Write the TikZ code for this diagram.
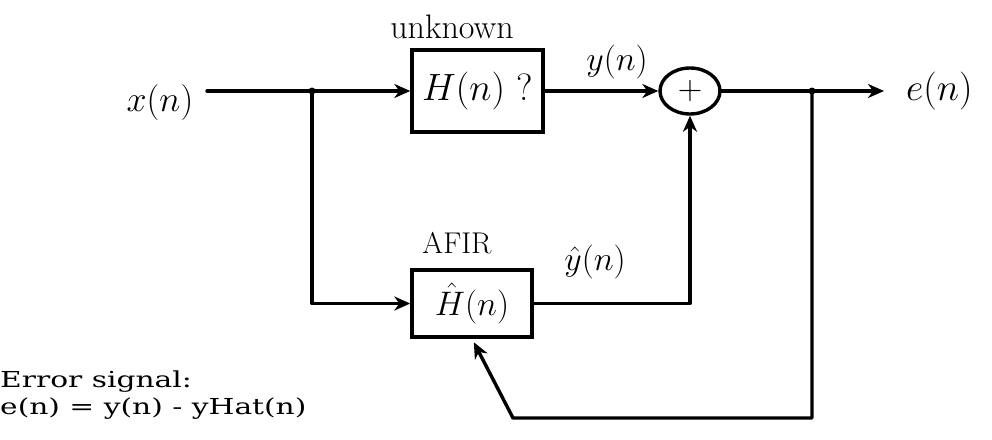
\RequirePackage{fix-cm}
\documentclass[tikz,border=0pt]{standalone}
\usepackage{fontspec}
\usetikzlibrary{arrows.meta,shapes.geometric}
\newfontfamily\errfont[FakeStretch=1.35]{DejaVu Serif}
\begin{document}
\begin{tikzpicture}[x=1pt,y=-1pt,
  wire/.style={line width=3.4pt,line join=round,line cap=round},
  arr/.style={wire,-{Stealth[length=16pt,width=14pt,inset=5pt]}},
  blockbox/.style={draw,line width=3.4pt,minimum width=#1,inner sep=0pt},
  lbl/.style={inner sep=0pt},
  dotnode/.style={circle,fill,inner sep=0pt,minimum size=7pt}]
\fill[white] (0,0) rectangle (992,439);
\useasboundingbox (0,0) rectangle (992,439);

% blocks
\node[blockbox=131pt,minimum height=82pt,font=\fontsize{38}{42}\selectfont] (H) at (477.5,91) {$H(n)$ ?};
\node[blockbox=120pt,minimum height=67pt,font=\fontsize{34}{38}\selectfont] (Hh) at (472,303.5) {$\hat{H}(n)$};
\node[draw,ellipse,line width=3.4pt,minimum width=60pt,minimum height=46pt,inner sep=0pt,font=\fontsize{34}{36}\selectfont] (sum) at (690,91) {$+$};

% labels
\node[lbl,font=\fontsize{36}{40}\selectfont] (xn) at (160,102) {$x(n)$};
\node[lbl,font=\fontsize{34}{36}\selectfont] (unk) at (452,27) {unknown};
\node[lbl,font=\fontsize{34}{38}\selectfont] (yn) at (617,62) {$y(n)$};
\node[lbl,font=\fontsize{30}{34}\selectfont] (afir) at (457,243) {AFIR};
\node[lbl,font=\fontsize{34}{38}\selectfont] (yh) at (595,262) {$\hat{y}(n)$};
\node[lbl,anchor=west,font=\fontsize{38}{42}\selectfont] (en) at (906,91) {$e(n)$};
\node[lbl,anchor=north west,align=left,font=\errfont\fontsize{22}{27}\selectfont] (err) at (0,371)
  {Error signal:\\e(n) = y(n) - yHat(n)};

% junctions
\coordinate (xs) at (207,91);
\coordinate (b1) at (312,91);
\coordinate (b2) at (812,91);
\coordinate (eout) at (884,91);
\coordinate (c1) at (812,418);
\coordinate (c2) at (513,418);
\node[dotnode] (d1) at (b1) {};
\node[dotnode] (d2) at (b2) {};

% connectors
\draw[wire] (xs) -- (b1);
\draw[arr] (b1) -- (H.west);
\draw[arr] (b1) |- (Hh.west);
\draw[arr] (H.east) -- (sum.west);
\draw[arr] (sum.east) -- (eout);
\draw[arr] (Hh.east) -| (sum.south);
\draw[arr,shorten >=4pt] (b2) -- (c1) -- (c2) -- (Hh.south);
\end{tikzpicture}
\end{document}
